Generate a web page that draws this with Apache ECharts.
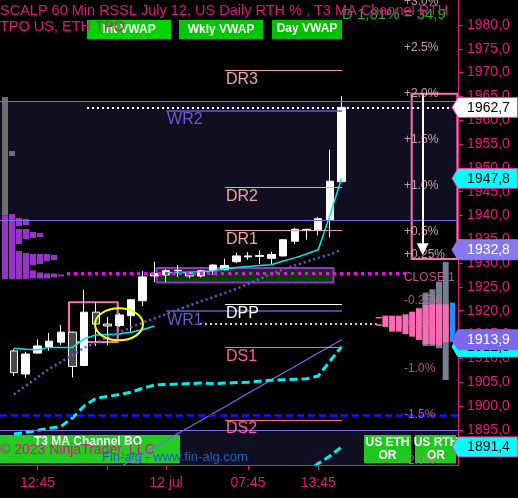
<!DOCTYPE html>
<html>
<head>
<meta charset="utf-8">
<script src="https://cdn.jsdelivr.net/npm/echarts@6/dist/echarts.min.js"></script>
<style>
html, body { margin: 0; padding: 0; background: #000; }
#chart { width: 518px; height: 498px; }
</style>
</head>
<body>
<div id="chart"></div>
<script>
// 60 min bars
const barTimes = ['10:45', '11:45', '12:45', '13:45', '14:45', '15:45', '16:45', '18:45', '19:45', '20:45',
  '21:45', '22:45', '23:45', '12 jul', '01:45', '02:45', '03:45', '04:45', '05:45', '06:45',
  '07:45', '08:45', '09:45', '10:45', '11:45', '12:45', '13:45', '14:45', '15:45'];
const timeTickBars = [2, 8, 13, 20, 26];
const timeLabelBars = [2, 13, 20, 26];
const priceTicks = [1890, 1895, 1900, 1905, 1910, 1915, 1920, 1925, 1930, 1935, 1940, 1945,
  1950, 1955, 1960, 1965, 1970, 1975, 1980];

const opens = [1911.55, 1906.7, 1911.1, 1912.4, 1913.4, 1915.5, 1908.5, 1919.7, 1917.2, 1916.9,
  1918.95, 1922.1, 1927.3, 1927.5, 1928.4, 1927.9, 1927.3, 1928.4, 1928.6, 1930.3,
  1931.3, 1931.6, 1931.0, 1931.5, 1934.6, 1937.0, 1937.0, 1939.1, 1947.1];
const closes = [1907.0, 1910.9, 1912.6, 1913.6, 1915.5, 1908.3, 1919.7, 1917.2, 1916.8, 1919.1,
  1922.3, 1927.1, 1927.8, 1928.4, 1928.5, 1927.3, 1928.4, 1929.6, 1929.5, 1931.5,
  1931.5, 1931.4, 1931.8, 1934.9, 1937.1, 1937.1, 1939.3, 1947.2, 1962.7];
const lows = [1906.3, 1905.9, 1911.0, 1911.6, 1912.8, 1906.0, 1908.4, 1912.6, 1912.7, 1916.6,
  1915.6, 1921.0, 1926.0, 1926.0, 1927.1, 1926.8, 1927.0, 1927.5, 1928.5, 1930.0,
  1930.7, 1929.8, 1929.8, 1931.4, 1934.0, 1934.9, 1935.8, 1935.4, 1947.0];
const highs = [1912.0, 1911.4, 1914.0, 1915.3, 1917.0, 1915.6, 1924.4, 1921.8, 1918.7, 1919.5,
  1922.4, 1928.3, 1930.3, 1928.8, 1929.6, 1928.2, 1928.6, 1929.7, 1930.9, 1932.2,
  1932.3, 1932.7, 1932.4, 1935.0, 1937.4, 1937.2, 1939.7, 1953.8, 1965.1];

// T3 MA channel, per session (starts at bar 0 and bar 13)
const t3Prior = [1912.1, 1911.9, 1911.8, 1912.3, 1912.3, 1912.3, 1914.1, 1914.9, 1915.0, 1915.1,
  1915.5, 1916.0, 1916.8];
const t3Rth = [1927.9, 1928.0, 1928.1, 1928.2, 1928.4, 1928.8, 1929.1, 1929.3, 1929.5, 1929.65,
  1930.45, 1931.1, 1931.9, 1932.8, 1940.0, 1947.8];
const t3LowerBand = [1894.1, 1894.4, 1894.9, 1895.3, 1895.7, 1897.5, 1900.0, 1901.6, 1902.0, 1902.4,
  1902.9, 1903.7, 1904.4, 1904.5, 1904.6, 1904.7, 1904.8, 1904.7, 1904.8, 1904.9,
  1905.0, 1905.2, 1905.4, 1905.5, 1905.6, 1905.7, 1906.3, 1909.4, 1912.45];
const t3LowerBandRth = [1884.5, 1886.1, 1887.9, 1889.5, 1891.4];      // from bar 24
const vwapDots = [1902.4, 1904.2, 1906.0, 1907.8, 1909.2, 1910.7, 1912.2, 1913.3, 1914.4, 1915.4,
  1916.5, 1917.5, 1918.4, 1919.3, 1920.2, 1921.1, 1922.0, 1922.8, 1923.7, 1924.6,
  1925.6, 1926.7, 1927.7, 1928.7, 1929.5, 1930.3, 1931.1, 1931.8, 1932.8];
const weeklyVwap = [1887.1, 1888.5, 1889.9, 1891.35, 1892.7, 1894.2, 1895.6, 1897.0, 1898.4, 1899.8,
  1901.2, 1902.65, 1904.05, 1905.5, 1906.9, 1908.3, 1909.7, 1911.1, 1912.5, 1913.9]; // from bar 9

// daily pivots and weekly levels
const pivotNames = ['DR3', 'DR2', 'DR1', 'DPP', 'DS1', 'DS2'];
const pivotValues = [1970.5, 1945.9, 1936.9, 1921.35, 1912.3, 1897.05];
const weeklyNames = ['WR2', 'WR1'];
const weeklyValues = [1961.95, 1919.9];
const rangeLines = [1964.0, 1939.0, 1894.9];
const priorSettle = 1927.8;
const pocLevel = 1917.3;

// RTH % levels from prior close
const prevClose = 1927.0;
const pctSteps = [3.0, 2.5, 2.0, 1.5, 1.0, 0.5, 0.25, 0, -0.25, -0.5, -1.0, -1.5, -2.0];
const pctLabels = ['+3.0%', '+2.5%', '+2.0%', '+1.5%', '+1.0%', '+0.5%', '+0.25%', 'CLOSE 1',
  '-0.25%', '-0.5%', '-1.0%', '-1.5%', '-2.0%'];

// TPO profiles: [period column, low, high]
const ethTpoLeft = [[0, 1926.67, 1939.96], [1, 1926.67, 1940.31],
  [2, 1937.8, 1939.48], [2, 1934.02, 1937.17], [2, 1926.67, 1932.55],
  [3, 1938.01, 1939.27], [3, 1935.07, 1937.17], [3, 1926.67, 1932.13],
  [4, 1935.28, 1936.54], [4, 1929.61, 1931.92], [4, 1926.78, 1928.46],
  [5, 1935.49, 1936.33], [5, 1929.82, 1931.92], [5, 1926.78, 1928.04],
  [6, 1930.45, 1931.92], [6, 1926.78, 1927.83],
  [7, 1930.66, 1931.71], [7, 1926.99, 1927.83], [8, 1927.2, 1927.62]];
const olderTpoLeft = [[0, 1939.96, 1964.88], [1, 1952.49, 1953.54]];
// right profile, column 0 next to the price axis: [low, high]
const ethTpoRight = [[1905.46, 1930.24], [1912.12, 1926.1], [1912.6, 1924.5], [1912.6, 1923.79]];
const rthTpoRight = [[1913.38, 1921.35], [1912.81, 1921.35], [1912.96, 1921.35], [1912.96, 1921.21],
  [1913.86, 1920.52], [1914.55, 1919.8], [1915.06, 1919.25], [1915.6, 1918.96],
  [1915.6, 1918.96], [1916.59, 1918.96]];
const rthTpoMarks = [1918.54, 1917.0];          // single prints, column 10
const rangeBarRight = [1913.38, 1921.69];

const PINK = '#e8177f';
const FONT = '"Liberation Sans", Arial, sans-serif';
const Y_MIN = 1887.6, Y_MAX = 1985.25;

const fmt = v => v.toFixed(1).replace('.', ',');
const fromBar = (start, arr) => arr.map((v, k) => [start + k, v]);
const last = arr => arr[arr.length - 1];

function leftProfileSeries(blocks, color, z) {
  return {
    type: 'custom', z, silent: true, data: blocks,
    renderItem(params, api) {
      const cs = params.coordSys;
      const top = api.coord([0, api.value(2)])[1];
      const bot = api.coord([0, api.value(1)])[1];
      return { type: 'rect', shape: { x: cs.x + 2 + 7 * api.value(0), y: top, width: 6, height: Math.max(1, bot - top) },
        style: { fill: color } };
    }
  };
}

function segment(x0, x1, v, color, width, type, label) {
  const item = { coord: [x0, v], lineStyle: { color, width, type } };
  item.label = label
    ? { show: true, position: 'insideStartBottom', formatter: label, color, fontSize: 16, fontFamily: FONT, distance: 1 }
    : { show: false };
  return [item, { coord: [x1, v] }];
}

const levelLines = [];
rangeLines.forEach(v => levelLines.push({ yAxis: v, lineStyle: { color: '#7b68ee', width: 1, type: 'solid' }, label: { show: false } }));
levelLines.push({ yAxis: prevClose * (1 - 1.5 / 100), lineStyle: { color: '#1414ff', width: 2.5, type: [7, 4] }, label: { show: false } });
levelLines.push(segment(4.53, 33.85, priorSettle, '#ff00ff', 3, [3, 4]));
levelLines.push(segment(6.24, 37.95, last(closes), '#ffffff', 2, [2, 3]));
levelLines.push(segment(15.9, 31.0, pocLevel, '#ffc4d0', 2, [2, 3]));
pivotNames.forEach((n, k) => {
  const col = n === 'DPP' ? '#ffffff' : (n[1] === 'R' ? '#f2a2aa' : '#ff5fa2');
  levelLines.push(segment(18.03, 28.03, pivotValues[k], col, 1, 'solid', n));
});
weeklyNames.forEach((n, k) => levelLines.push(segment(13, 28.03, weeklyValues[k], '#6a5acd', 1.5, 'solid', n)));
levelLines.push([
  { coord: [34.93, prevClose * 1.02], lineStyle: { color: '#ffffff', width: 2, type: 'solid' }, label: { show: false }, symbol: 'none' },
  { coord: [34.93, 1932.9], symbol: 'triangle', symbolSize: 12 }
]);

const chart = echarts.init(document.getElementById('chart'));
const option = {
  backgroundColor: '#000',
  animation: false,
  grid: { left: 0, right: 60, top: 0, bottom: 33, containLabel: false, outerBoundsMode: 'none' },
  xAxis: {
    type: 'value', min: -1.2, max: 37.95, z: 5,
    axisLine: { show: true, onZero: false, lineStyle: { color: PINK, width: 1 } },
    axisTick: { show: true, length: 5, customValues: timeTickBars, lineStyle: { color: PINK } },
    axisLabel: { customValues: timeLabelBars, formatter: v => barTimes[Math.round(v)], color: PINK,
      fontSize: 14, fontFamily: FONT, margin: 11 },
    splitLine: { show: false }
  },
  yAxis: {
    type: 'value', position: 'right', min: Y_MIN, max: Y_MAX, z: 5,
    axisLine: { show: true, onZero: false, lineStyle: { color: PINK, width: 1 } },
    axisTick: { show: true, length: 5, customValues: priceTicks, lineStyle: { color: PINK } },
    axisLabel: { customValues: priceTicks, formatter: v => fmt(v), color: PINK, fontSize: 14,
      fontFamily: FONT, margin: 9 },
    splitLine: { show: false }
  },
  series: [
    { type: 'line', data: [], z: 0, silent: true,
      markArea: { silent: true, itemStyle: { color: '#100f1f' },
        data: [[{ yAxis: rangeLines[0] }, { yAxis: rangeLines[1] }], [{ yAxis: rangeLines[2] }, { yAxis: Y_MIN }]] } },
    { type: 'line', data: [], z: 1.8, silent: true,
      markArea: { silent: true, data: [
        [{ coord: [12.2, 1928.97], itemStyle: { color: '#073b0c', borderColor: '#9b30d0', borderWidth: 2 } }, { coord: [27.3, 1925.9] }],
        [{ coord: [4.7, 1921.77], itemStyle: { color: 'rgba(0,0,0,0)', borderColor: '#ff6eb4', borderWidth: 2 } }, { coord: [8.86, 1913.44] }],
        [{ coord: [33.99, prevClose * 1.02], itemStyle: { color: 'rgba(0,0,0,0)', borderColor: '#ff6eb4', borderWidth: 2 } }, { coord: [37.9, 1930.87] }]
      ] } },
    { type: 'line', data: [], z: 2, silent: true,
      markLine: { silent: true, symbol: ['none', 'none'], precision: 2, data: levelLines } },
    leftProfileSeries(olderTpoLeft, '#6e6e6e', 2),
    leftProfileSeries(ethTpoLeft, '#9932cc', 2),
    {
      type: 'candlestick', z: 3, barWidth: 8,
      data: opens.map((o, i) => [i, o, closes[i], lows[i], highs[i]]),
      encode: { x: 0, y: [1, 2, 3, 4] },
      itemStyle: { color: '#ffffff', color0: '#4a4a4a', borderColor: '#ffffff', borderColor0: '#ffffff', borderWidth: 1 }
    },
    { type: 'line', z: 4, symbol: 'none', data: fromBar(0, t3Prior), lineStyle: { color: '#00e8f0', width: 1.5 } },
    { type: 'line', z: 4, symbol: 'none', data: fromBar(13, t3Rth), lineStyle: { color: '#00e8f0', width: 1.5 } },
    { type: 'line', z: 4, symbol: 'none', data: fromBar(0, vwapDots), lineStyle: { color: '#6a5acd', width: 2.5, type: [2, 3] } },
    { type: 'line', z: 4, symbol: 'none', data: fromBar(9, weeklyVwap), lineStyle: { color: '#7b68ee', width: 1.2 } },
    { type: 'line', z: 4, symbol: 'none', data: fromBar(0, t3LowerBand), lineStyle: { color: '#00f0f0', width: 3, type: [8, 4] } },
    { type: 'line', z: 4, symbol: 'none', data: fromBar(24, t3LowerBandRth), lineStyle: { color: '#00f0f0', width: 3, type: [8, 4] } },
    {
      type: 'scatter', z: 8, symbolSize: 0, silent: true,
      data: pctSteps.map(p => ({ value: [33.33, prevClose * (1 + p / 100)],
        label: { color: p > 0 ? '#f4c2cc' : '#e8689a' } })),
      label: { show: true, position: 'right', distance: 0, fontSize: 12, fontFamily: FONT,
        formatter: p => pctLabels[p.dataIndex] }
    }
  ]
};
chart.setOption(option);

// overlays: profile on the price axis, buttons, titles, price tags
const g = [];
const txt = (text, x, y, fill, font, align, z) => ({ type: 'text', z, silent: true,
  style: { text, x, y, fill, font, align: align || 'left', verticalAlign: 'middle', textAlign: align || 'left', textVerticalAlign: 'middle' } });
const box = (x, y, w, h, fill, z) => ({ type: 'rect', z, silent: true, shape: { x, y, width: w, height: h }, style: { fill } });
const py = v => chart.convertToPixel({ yAxisIndex: 0 }, v);
const axisX = chart.convertToPixel({ xAxisIndex: 0 }, 37.95);

const colX = k => axisX - 15.3 - 6.7 * k;
const pBlock = (k, lo, hi, fill, z) => box(colX(k), py(hi), 6, Math.max(1.5, py(lo) - py(hi)), fill, z);
ethTpoRight.forEach((b, k) => g.push(pBlock(k, b[0], b[1], '#708090', 6)));
rthTpoRight.forEach((b, k) => g.push(pBlock(k, b[0], b[1], '#ff69b4', 7)));
rthTpoMarks.forEach(v => g.push(pBlock(10, v - 0.15, v + 0.15, '#ff69b4', 7)));
g.push(box(axisX - 8, py(rangeBarRight[1]), 5, py(rangeBarRight[0]) - py(rangeBarRight[1]), '#1e90ff', 7));

g.push(box(87, 20, 84, 19, '#00d400', 10), txt('Int VWAP', 129, 29.5, '#fff', 'bold 12px ' + FONT, 'center', 10));
g.push(box(179, 20, 84, 19, '#00c800', 10), txt('Wkly VWAP', 221, 29.5, '#fff', 'bold 12px ' + FONT, 'center', 10));
g.push(box(272, 20, 70, 19, '#00c000', 10), txt('Day VWAP', 307, 29, '#fff', 'bold 12px ' + FONT, 'center', 10));
g.push(txt('D 1,81% = 34,9', 342, 15, '#22b022', '15px ' + FONT, 'left', 10));
g.push(txt('SCALP 60 Min RSSL July 12, US Daily RTH % , T3 MA Channel RTH', 0, 11, '#e0157f', '14.5px ' + FONT, 'left', 11));
g.push(txt('TPO US, ETH TPO', 0, 26.5, '#e0157f', '14.5px ' + FONT, 'left', 11));

g.push(box(0, 435, 180, 28, '#22cc22', 1));
g.push(txt('T3 MA Channel BO', 88, 441.5, '#fff', 'bold 12px ' + FONT, 'center', 1));
g.push(txt('\u00a9 2023 NinjaTrader, LLC', 0, 450, '#e0157f', '14px ' + FONT, 'left', 1));
g.push(txt('Fin-alg - www.fin-alg.com', 102, 457, '#1f5fb8', '13px ' + FONT, 'left', 1));
g.push(box(364, 435, 47, 28, '#1ec81e', 4), txt('US ETH', 387.5, 443, '#fff', 'bold 12px ' + FONT, 'center', 4),
  txt('OR', 387.5, 455.5, '#fff', 'bold 12px ' + FONT, 'center', 4));
g.push(box(415, 435, 41, 28, '#1ec81e', 4), txt('US RTH', 436, 443, '#fff', 'bold 12px ' + FONT, 'center', 4),
  txt('OR', 436, 455.5, '#fff', 'bold 12px ' + FONT, 'center', 4));

const c = chart.convertToPixel({ gridIndex: 0 }, [8.97, 1917.15]);
g.push({ type: 'ellipse', z: 50, silent: true, shape: { cx: c[0], cy: c[1], rx: 24, ry: 16 },
  style: { fill: 'rgba(0,0,0,0)', stroke: '#ffff00', lineWidth: 2 } });

const tags = [
  { v: last(closes), fill: '#ffffff', color: '#000', stroke: '#ff3399' },
  { v: last(t3Rth), fill: '#00ffff', color: '#000', stroke: '#ff3399' },
  { v: last(vwapDots), fill: '#8878f0', color: '#fff', stroke: '#8878f0' },
  { v: last(t3LowerBand), fill: '#00ffff', color: '#000', stroke: '#00ffff' },
  { v: last(weeklyVwap), fill: '#7b68ee', color: '#fff', stroke: '#7b68ee' },
  { v: last(t3LowerBandRth), fill: '#00ffff', color: '#000', stroke: '#ff3399' }
];
tags.forEach((t, k) => {
  const y = py(t.v);
  g.push({ type: 'polygon', z: 100 + k, silent: true,
    shape: { points: [[axisX - 6, y], [axisX, y - 10], [517.5, y - 10], [517.5, y + 10], [axisX, y + 10]] },
    style: { fill: t.fill, stroke: t.stroke, lineWidth: 1 } });
  g.push(txt(fmt(t.v), 488.5, y + 0.5, t.color, '14px ' + FONT, 'center', 100 + k));
});
chart.setOption({ graphic: g });
</script>
</body>
</html>
